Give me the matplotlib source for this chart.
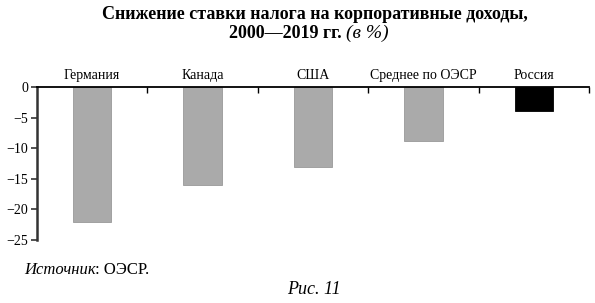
import numpy as np
import matplotlib
matplotlib.use("Agg")
import matplotlib.pyplot as plt

# data
countries = ["Германия", "Канада", "США", "Среднее по ОЭСР", "Россия"]
change = [-22, -16, -13, -8.9, -4]
colors = ["#aaaaaa", "#aaaaaa", "#aaaaaa", "#aaaaaa", "#000000"]
yticks = [0, -5, -10, -15, -20, -25]

plt.rcParams['font.family'] = ['Liberation Serif', 'DejaVu Serif']

fig = plt.figure(figsize=(5.95, 3.03), dpi=100)
ax = fig.add_axes([0.062, 0.208, 0.928, 0.505])

x = np.arange(len(countries))
ax.bar(x, change, width=0.35, color=colors, edgecolor=["#999999"] * 4 + ["#000000"], linewidth=0.6)

ax.set_xlim(-0.5, len(countries) - 0.5)
ax.set_ylim(-25, 0)
ax.set_yticks(yticks)
ax.set_yticklabels([str(v).replace("-", "\u2212") for v in yticks], fontsize=10)

# names above the zero line, centred on the bars
for xi, name in zip(x, countries):
    ax.text(xi, 1.03, name, transform=ax.get_xaxis_transform(), ha='center',
            va='bottom', fontsize=10)

# boundary ticks pointing down from the zero line
ax.xaxis.tick_top()
ax.set_xticks(np.arange(0.5, len(countries), 1))
ax.set_xticklabels([])
ax.tick_params(axis='x', top=True, direction='in', length=4, width=1)
ax.tick_params(axis='y', direction='out', length=4, width=1.2, pad=2, color='#333333')

for s in ["right", "bottom"]:
    ax.spines[s].set_visible(False)
ax.spines["top"].set_linewidth(1.3)
ax.spines["left"].set_linewidth(1.8)
ax.spines["left"].set_color('#333333')

fig.text(0.529, 0.952, "Снижение ставки налога на корпоративные доходы,",
         ha='center', va='center', fontsize=13, fontweight='bold')
t2 = fig.text(0.385, 0.89, "2000—2019 гг. ", ha='left', va='center',
              fontsize=13, fontweight='bold')
ax.annotate("(в %)", xy=(1, 0.5), xycoords=t2, ha='left', va='center',
            fontsize=14, style='italic', annotation_clip=False)

t3 = fig.text(0.040, 0.108, "Источник", ha='left', va='center', fontsize=12, style='italic')
ax.annotate(": ОЭСР.", xy=(1, 0.5), xycoords=t3, ha='left', va='center',
            fontsize=12, annotation_clip=False)
fig.text(0.528, 0.045, "Рис. 11", ha='center', va='center', fontsize=13, style='italic')

fig.savefig("out.png", dpi=100)
